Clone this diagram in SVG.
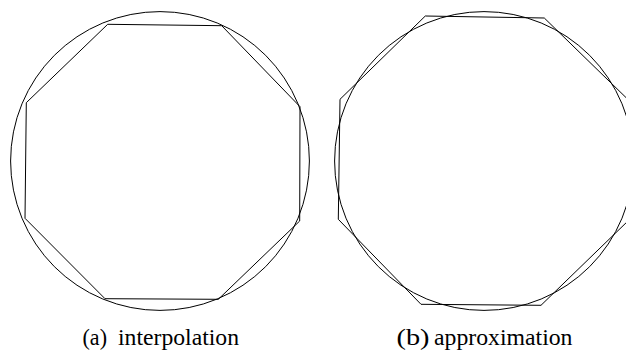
<svg xmlns="http://www.w3.org/2000/svg" width="626" height="352" viewBox="0 0 626 352">
<style>
.s{fill:none;stroke:#000;stroke-width:1;stroke-linejoin:miter}
.t{font-family:"Liberation Serif","Times New Roman",serif;font-size:23.5px;fill:#000}
</style>
<rect width="626" height="352" fill="#fff"/>
<g id="interpolation">
<circle class="s" cx="160" cy="161" r="149.4"/>
<polygon class="s" points="107.7,24.3 221.7,25.7 300,106.7 299.7,221 218.3,299.3 105,298.7 25,218.3 26.3,102.7"/>
<text class="t" x="82.5" y="345" textLength="24.5" lengthAdjust="spacingAndGlyphs">(a)</text>
<text class="t" x="118" y="345" textLength="121" lengthAdjust="spacingAndGlyphs">interpolation</text>
</g>
<g id="approximation">
<circle class="s" cx="484" cy="161" r="149.4"/>
<polygon class="s" points="425.3,16 544.3,18 628.5,100 630,219 541,305.3 421,304.3 338.3,219.3 340,99.3"/>
<text class="t" x="396.5" y="345" textLength="33" lengthAdjust="spacingAndGlyphs">(b)</text>
<text class="t" x="434" y="345" textLength="138.5" lengthAdjust="spacingAndGlyphs">approximation</text>
</g>
</svg>
